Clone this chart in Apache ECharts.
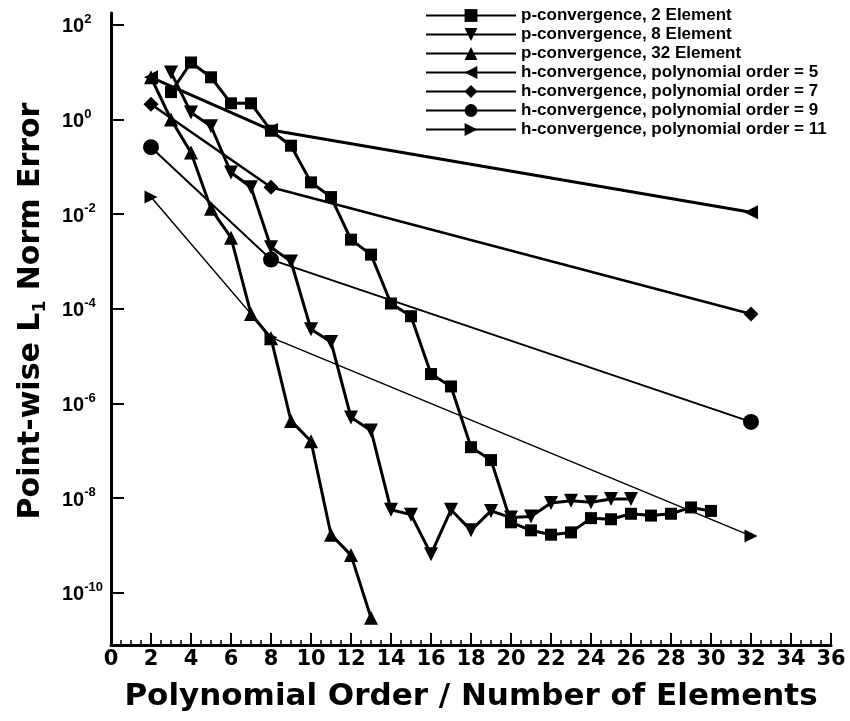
<!DOCTYPE html>
<html>
<head>
  <meta charset="UTF-8">
  <script src="https://cdn.jsdelivr.net/npm/echarts@6/dist/echarts.min.js"></script>
  <style>
    html, body { margin: 0; padding: 0; background: #fff; }
    #main { width: 850px; height: 721px; }
  </style>
</head>
<body>
  <div id="main"></div>
  <script>
    // p-convergence runs (x = polynomial order)
    var xP2 = [3, 4, 5, 6, 7, 8, 9, 10, 11, 12, 13, 14, 15, 16, 17, 18, 19, 20, 21, 22, 23, 24, 25, 26, 27, 28, 29, 30];
    var p2 = [3.8, 16, 7.8, 2.2, 2.2, 0.58, 0.28, 0.047, 0.023, 0.0029, 0.0014, 1.3e-4, 7e-5, 4.2e-6, 2.3e-6, 1.2e-7, 6.4e-8,
              3.1e-9, 2.1e-9, 1.7e-9, 1.9e-9, 3.8e-9, 3.6e-9, 4.7e-9, 4.3e-9, 4.7e-9, 6.4e-9, 5.4e-9];

    var xP8 = [3, 4, 5, 6, 7, 8, 9, 10, 11, 12, 13, 14, 15, 16, 17, 18, 19, 20, 21, 22, 23, 24, 25, 26];
    var p8 = [9.9, 1.4, 0.72, 0.076, 0.037, 0.002, 0.001, 3.7e-5, 2e-5, 5.1e-7, 2.7e-7, 5.7e-9, 4.5e-9, 6.6e-10,
              5.7e-9, 2.1e-9, 5.4e-9, 3.9e-9, 4.1e-9, 7.9e-9, 8.9e-9, 8.2e-9, 9.6e-9, 9.6e-9];

    var xP32 = [2, 3, 4, 5, 6, 7, 8, 9, 10, 11, 12, 13];
    var p32 = [7.8, 1.0, 0.2, 0.013, 0.0032, 7.8e-5, 2.4e-5, 4.3e-7, 1.6e-7, 1.7e-9, 6.3e-10, 3e-11];

    // h-convergence runs (x = number of elements)
    var xH = [2, 8, 32];
    var h5 = [7.8, 0.6, 0.011];
    var h7 = [2.1, 0.037, 7.8e-5];
    var h9 = [0.26, 0.0011, 4.1e-7];
    var h11 = [0.023, 2.5e-5, 1.6e-9];

    var names = [
      'p-convergence, 2 Element',
      'p-convergence, 8 Element',
      'p-convergence, 32 Element',
      'h-convergence, polynomial order = 5',
      'h-convergence, polynomial order = 7',
      'h-convergence, polynomial order = 9',
      'h-convergence, polynomial order = 11'
    ];

    // decade exponents that carry a tick and label
    var yDecades = [-10, -8, -6, -4, -2, 0, 2];

    function pts(xs, vals) {
      return xs.map(function (x, i) { return [x, Math.log10(vals[i])]; });
    }

    function line(name, xs, vals, symbol, size, rot, width) {
      return {
        name: name,
        type: 'line',
        data: pts(xs, vals),
        symbol: symbol,
        symbolSize: size,
        symbolRotate: rot,
        showAllSymbol: true,
        lineStyle: { color: '#000', width: width },
        itemStyle: { color: '#000' }
      };
    }

    var chart = echarts.init(document.getElementById('main'));
    chart.setOption({
      animation: false,
      backgroundColor: '#fff',
      grid: { left: 111, right: 19, top: 13, bottom: 76 },
      legend: {
        orient: 'vertical',
        left: 420,
        top: 2,
        itemWidth: 90,
        itemHeight: 16,
        itemGap: 2,
        textStyle: { color: '#000', fontFamily: 'Liberation Sans', fontWeight: 'bold', fontSize: 17 },
        data: names
      },
      xAxis: {
        type: 'value',
        min: 0,
        max: 36,
        interval: 2,
        name: 'Polynomial Order / Number of Elements',
        nameLocation: 'middle',
        nameGap: 36,
        nameTextStyle: { color: '#000', fontFamily: 'DejaVu Sans', fontWeight: 'bold', fontSize: 31 },
        axisLine: { onZero: false, lineStyle: { color: '#000', width: 3 } },
        axisTick: { inside: true, length: 12, lineStyle: { color: '#000', width: 2 } },
        minorTick: { show: true, splitNumber: 4, length: 5, lineStyle: { color: '#000', width: 1.5 } },
        axisLabel: { color: '#000', fontFamily: 'DejaVu Sans', fontWeight: 'bold', fontSize: 21, margin: 4 },
        splitLine: { show: false }
      },
      yAxis: {
        type: 'value',
        min: -11.1,
        max: 2.25,
        name: 'Point-wise L{sub|1} Norm Error',
        nameLocation: 'middle',
        nameRotate: 90,
        nameGap: 62,
        nameTextStyle: {
          color: '#000', fontFamily: 'DejaVu Sans', fontWeight: 'bold', fontSize: 30, lineHeight: 36,
          padding: [0, 0, 0, 36],
          rich: {
            sub: { color: '#000', fontFamily: 'DejaVu Sans', fontWeight: 'bold', fontSize: 17, verticalAlign: 'bottom' }
          }
        },
        axisLine: { onZero: false, lineStyle: { color: '#000', width: 3 } },
        axisTick: { inside: true, length: 13, customValues: yDecades, lineStyle: { color: '#000', width: 2 } },
        axisLabel: {
          customValues: yDecades,
          margin: 49,
          align: 'left',
          formatter: function (v) { return '{b|10}{s|' + v + '}'; },
          rich: {
            b: { color: '#000', fontFamily: 'Liberation Sans', fontWeight: 'bold', fontSize: 20, verticalAlign: 'bottom' },
            s: { color: '#000', fontFamily: 'Liberation Sans', fontWeight: 'bold', fontSize: 13, lineHeight: 24, verticalAlign: 'top' }
          }
        },
        splitLine: { show: false }
      },
      series: [
        line(names[0], xP2, p2, 'rect', 12, 0, 3),
        line(names[1], xP8, p8, 'triangle', 14, 180, 3),
        line(names[2], xP32, p32, 'triangle', 14, 0, 3),
        line(names[3], xH, h5, 'triangle', 14, 90, 3),
        line(names[4], xH, h7, 'diamond', 15, 0, 2.5),
        line(names[5], xH, h9, 'circle', 16, 0, 2),
        line(names[6], xH, h11, 'triangle', 13, -90, 1.5)
      ]
    });
  </script>
</body>
</html>
